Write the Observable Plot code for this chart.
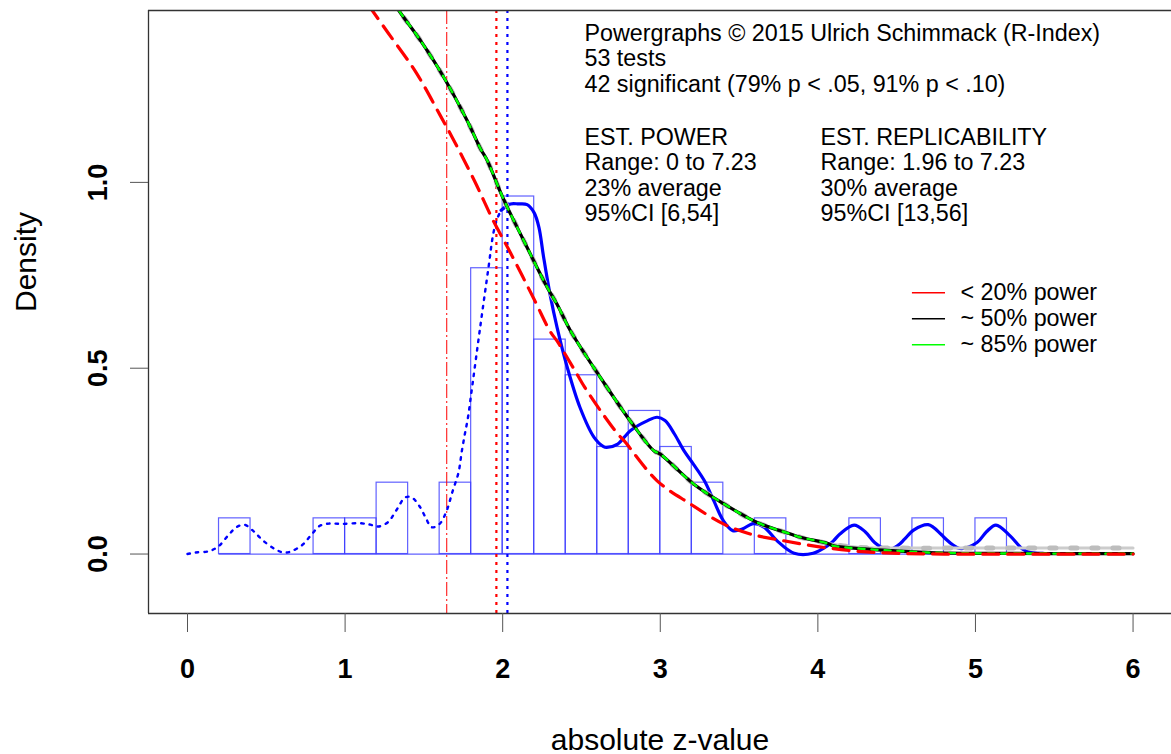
<!DOCTYPE html>
<html><head><meta charset="utf-8">
<script src="https://cdn.jsdelivr.net/npm/d3@7"></script>
<script src="https://cdn.jsdelivr.net/npm/@observablehq/plot@0.6"></script>
<style>body{margin:0;background:#fff}svg{display:block}</style>
</head><body><div id="chart"></div>
<script>
// ---- axes ----
const xTicks = [0, 1, 2, 3, 4, 5, 6];
const yTicks = [0, 0.5, 1];

// ---- histogram (bin left edges, width 0.2, density) ----
const binLo = [0.2,0.4,0.6,0.8,1.0,1.2,1.4,1.6,1.8,2.0,2.2,2.4,2.6,2.8,3.0,3.2,3.4,3.6,3.8,4.0,4.2,4.4,4.6,4.8,5.0];
const binDensity = [0.096,0,0,0.096,0.096,0.192,0,0.192,0.769,0.962,0.577,0.481,0.288,0.385,0.288,0.192,0,0.096,0,0,0.096,0,0.096,0,0.096];
const binWidth = 0.2;

// ---- kernel density of all z (dotted) ----
const kdAllZ = [0.00,0.05,0.14,0.20,0.26,0.31,0.36,0.42,0.48,0.56,0.61,0.65,0.73,0.79,0.84,0.90,0.98,1.09,1.16,1.21,1.27,1.33,1.38,1.42,1.47,1.51,1.55,1.60,1.645,1.68,1.72,1.74,1.76,1.78,1.80,1.86,1.91,1.94,1.965,1.99];
const kdAllY = [0.000,0.004,0.008,0.022,0.051,0.072,0.079,0.061,0.036,0.012,0.004,0.006,0.025,0.054,0.076,0.082,0.081,0.083,0.079,0.074,0.085,0.121,0.152,0.153,0.130,0.099,0.072,0.081,0.117,0.166,0.220,0.275,0.323,0.368,0.430,0.619,0.771,0.861,0.902,0.925];

// ---- kernel density of significant z (solid) ----
const kdSigZ = [1.99,2.05,2.10,2.155,2.20,2.23,2.26,2.30,2.345,2.41,2.49,2.58,2.64,2.66,2.73,2.81,2.92,2.98,3.03,3.09,3.15,3.21,3.28,3.34,3.40,3.46,3.52,3.59,3.66,3.74,3.85,3.97,4.06,4.10,4.14,4.23,4.30,4.36,4.42,4.47,4.52,4.55,4.61,4.70,4.78,4.80,4.90,5.01,5.07,5.13,5.22,5.30,5.35,5.43];
const kdSigY = [0.925,0.942,0.942,0.940,0.918,0.879,0.798,0.700,0.610,0.502,0.395,0.314,0.289,0.287,0.296,0.332,0.359,0.368,0.359,0.323,0.278,0.242,0.197,0.143,0.090,0.063,0.067,0.082,0.072,0.036,0.002,0.002,0.022,0.036,0.054,0.078,0.060,0.031,0.015,0.014,0.027,0.040,0.065,0.079,0.054,0.045,0.015,0.031,0.060,0.078,0.049,0.013,0.004,0.002];

// ---- model curves ----
const lowZ = [1.15,1.27,1.45,1.60,1.68,1.82,1.88,1.94,2.05,2.20,2.30,2.35,2.47,2.52,2.62,2.73,2.77,2.98,3.19,3.40,3.57,3.78,4.00,4.21,4.42,4.80,6.00];
const lowY = [1.476,1.404,1.296,1.183,1.121,1.005,0.951,0.897,0.810,0.685,0.600,0.570,0.485,0.449,0.386,0.323,0.305,0.197,0.135,0.081,0.054,0.036,0.020,0.009,0.003,0.000,0.000];

const midZ = [1.30,1.341,1.478,1.626,1.775,1.86,1.902,2.00,2.134,2.282,2.345,2.43,2.62,2.832,2.959,3.00,3.213,3.404,3.615,3.826,3.89,4.059,4.10,4.313,4.52,4.70,5.00,6.00];
const midY = [1.49,1.4625,1.382,1.283,1.166,1.090,1.059,0.960,0.843,0.718,0.672,0.601,0.475,0.345,0.278,0.269,0.188,0.135,0.085,0.054,0.045,0.029,0.022,0.013,0.008,0.004,0.002,0.001];

const fitZ = [1.30,1.341,1.478,1.626,1.775,1.86,1.902,2.00,2.134,2.282,2.345,2.43,2.62,2.832,2.959,3.00,3.213,3.404,3.615,3.826,3.89,4.059,4.20,4.31,4.50,5.00,6.00];
const fitY = [1.49,1.4625,1.382,1.283,1.166,1.090,1.059,0.960,0.843,0.718,0.672,0.601,0.475,0.345,0.278,0.269,0.188,0.135,0.085,0.054,0.045,0.029,0.020,0.017,0.016,0.016,0.016];

// ---- reference lines ----
const critOneSided = 1.645;
const critTwoSided = 1.96;
const medianZ = 2.03;

// ---- annotation text ----
const infoCol1 = ["Powergraphs \u00A9 2015 Ulrich Schimmack (R-Index)", "53 tests", "42 significant (79% p < .05, 91% p < .10)", "EST. POWER", "Range: 0 to 7.23", "23% average", "95%CI [6,54]"];
const infoCol1Y = [1.40, 1.332, 1.262, 1.121, 1.054, 0.983, 0.916];
const infoCol2 = ["EST. REPLICABILITY", "Range: 1.96 to 7.23", "30% average", "95%CI [13,56]"];
const infoCol2Y = [1.121, 1.054, 0.983, 0.916];
const legendLabels = ["< 20% power", "~ 50% power", "~ 85% power"];
const legendColors = ["#ff0000", "#000000", "#00ff00"];
const legendY = [0.703, 0.633, 0.563];

const hist = binLo.map((lo, i) => ({lo, hi: +(lo + binWidth).toFixed(2), y: binDensity[i]}));
const pts = (xs, ys) => xs.map((x, i) => ({x, y: ys[i]}));
const font = "'Liberation Sans', Arial, sans-serif";

const chart = Plot.plot({
  width: 1171,
  height: 754,
  marginLeft: 148,
  marginRight: 0,
  marginTop: 10,
  marginBottom: 141,
  style: {fontFamily: font, background: "#fff", color: "#000", overflow: "visible"},
  x: {domain: [-0.2475, 6.244]},
  y: {domain: [-0.16, 1.4625]},
  marks: [
    // histogram
    Plot.ruleY([0], {x1: d3.min(binLo), x2: d3.max(hist, d => d.hi), stroke: "#3a3aff", strokeWidth: 1.2, strokeOpacity: 0.8}),
    Plot.rectY(hist.filter(d => d.y > 0), {x1: "lo", x2: "hi", y1: 0, y2: "y", fill: "none", stroke: "#3a3aff", strokeWidth: 1.2, strokeOpacity: 0.8}),
    // reference lines
    Plot.ruleX([critOneSided], {stroke: "#ff0000", strokeWidth: 1, strokeDasharray: "14,3,2,3"}),
    Plot.ruleX([critTwoSided], {stroke: "#ff0000", strokeWidth: 2.2, strokeDasharray: "3,5"}),
    Plot.ruleX([medianZ], {stroke: "#0000ff", strokeWidth: 2.2, strokeDasharray: "3,5"}),
    // densities
    Plot.line(pts(kdAllZ, kdAllY), {x: "x", y: "y", stroke: "#0000ff", strokeWidth: 2.4, strokeDasharray: "2.5,6", strokeLinecap: "round", curve: "catmull-rom"}),
    Plot.line(pts(kdSigZ, kdSigY), {x: "x", y: "y", stroke: "#0000ff", strokeWidth: 3.2, curve: "catmull-rom"}),
    // model curves
    Plot.line(pts(fitZ, fitY), {x: "x", y: "y", stroke: "#cccccc", strokeWidth: 3, curve: "catmull-rom", clip: true}),
    Plot.line(pts(fitZ, fitY), {x: "x", y: "y", stroke: "#bdbdbd", strokeWidth: 5, strokeDasharray: "6,15", strokeLinecap: "round", curve: "catmull-rom", clip: true}),
    Plot.line(pts(midZ, midY), {x: "x", y: "y", stroke: "#000000", strokeWidth: 3.2, curve: "catmull-rom", clip: true}),
    Plot.line(pts(midZ, midY), {x: "x", y: "y", stroke: "#00ff00", strokeWidth: 2.4, strokeDasharray: "6,7", curve: "catmull-rom", clip: true}),
    Plot.line(pts(lowZ, lowY), {x: "x", y: "y", stroke: "#ff0000", strokeWidth: 3.2, strokeDasharray: "16,9", curve: "catmull-rom", clip: true}),
    // frame (left, top, bottom)
    Plot.ruleX([-0.2475], {stroke: "#333", strokeWidth: 1.3}),
    Plot.ruleY([-0.16, 1.4625], {stroke: "#333", strokeWidth: 1.3}),
    // axes
    Plot.axisX(xTicks, {tickSize: 19, tickPadding: 26, fontSize: 27, fontWeight: "bold", stroke: "#555", label: null, tickFormat: d3.format("d")}),
    Plot.axisY(yTicks, {tickSize: 18, tickPadding: 24, tickRotate: -90, fontSize: 27, fontWeight: "bold", stroke: "#555", label: null, tickFormat: d3.format(".1f")}),
    Plot.text(["absolute z-value"], {text: d => d, frameAnchor: "bottom", dy: 127, fontSize: 30, lineAnchor: "middle"}),
    Plot.text(["Density"], {text: d => d, frameAnchor: "left", dx: -122, rotate: -90, fontSize: 30, lineAnchor: "middle"}),
    // annotations
    Plot.text(infoCol1, {x: () => 2.519, y: (d, i) => infoCol1Y[i], text: d => d, textAnchor: "start", lineAnchor: "middle", fontSize: 23.3}),
    Plot.text(infoCol2, {x: () => 4.017, y: (d, i) => infoCol2Y[i], text: d => d, textAnchor: "start", lineAnchor: "middle", fontSize: 23.3}),
    // legend
    Plot.ruleY(legendLabels, {y: (d, i) => legendY[i], x1: () => 4.6, x2: () => 4.81, stroke: (d, i) => legendColors[i], strokeWidth: 1.5}),
    Plot.text(legendLabels, {x: () => 4.905, y: (d, i) => legendY[i], text: d => d, textAnchor: "start", lineAnchor: "middle", fontSize: 23.3})
  ]
});
document.getElementById("chart").append(chart);
</script>
</body></html>
